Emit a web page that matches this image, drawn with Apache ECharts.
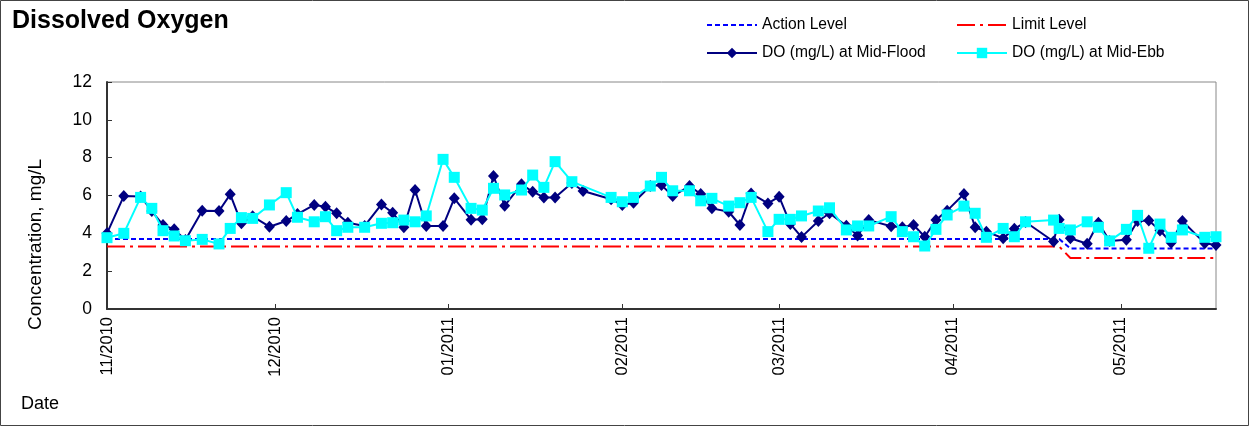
<!DOCTYPE html>
<html>
<head>
<meta charset="utf-8">
<script src="https://cdn.jsdelivr.net/npm/echarts@6/dist/echarts.min.js"></script>
<style>
html,body{margin:0;padding:0;background:#fff;}
#chart{width:1250px;height:427px;}
</style>
</head>
<body>
<div id="chart"></div>
<script>
// ---- Data ----
var floodDates = ['2010-11-01','2010-11-04','2010-11-07','2010-11-09','2010-11-11','2010-11-13','2010-11-15','2010-11-18','2010-11-21','2010-11-23','2010-11-25','2010-11-27','2010-11-30',
  '2010-12-03','2010-12-05','2010-12-08','2010-12-10','2010-12-12','2010-12-14','2010-12-17','2010-12-20','2010-12-22','2010-12-24','2010-12-26','2010-12-28','2010-12-31',
  '2011-01-02','2011-01-05','2011-01-07','2011-01-09','2011-01-11','2011-01-14','2011-01-16','2011-01-18','2011-01-20','2011-01-23','2011-01-25','2011-01-30',
  '2011-02-01','2011-02-03','2011-02-06','2011-02-08','2011-02-10','2011-02-13','2011-02-15','2011-02-17','2011-02-20','2011-02-22','2011-02-24','2011-02-27',
  '2011-03-01','2011-03-03','2011-03-05','2011-03-08','2011-03-10','2011-03-13','2011-03-15','2011-03-17','2011-03-21','2011-03-23','2011-03-25','2011-03-27','2011-03-29','2011-03-31',
  '2011-04-03','2011-04-05','2011-04-07','2011-04-10','2011-04-12','2011-04-14','2011-04-19','2011-04-20','2011-04-22','2011-04-25','2011-04-27','2011-04-29',
  '2011-05-02','2011-05-04','2011-05-06','2011-05-08','2011-05-10','2011-05-12','2011-05-16','2011-05-18'];
var floodValues = [4.0,5.97,5.95,5.18,4.44,4.21,3.65,5.2,5.18,6.06,4.53,4.9,4.35,
  4.65,5.02,5.5,5.41,5.06,4.56,4.39,5.53,5.09,4.32,6.29,4.39,4.39,
  5.85,4.72,4.74,7.03,5.46,6.59,6.2,5.9,5.9,6.66,6.24,5.8,
  5.5,5.62,6.5,6.55,5.97,6.5,6.08,5.32,5.14,4.44,6.11,5.58,
  5.94,4.5,3.8,4.65,5.06,4.4,3.88,4.7,4.37,4.32,4.44,3.82,4.7,5.2,
  6.08,4.32,4.09,3.74,4.24,4.6,3.57,4.72,3.74,3.45,4.56,3.6,
  3.66,4.65,4.68,4.15,3.5,4.65,3.47,3.38];

var ebbDates = ['2010-11-01','2010-11-04','2010-11-07','2010-11-09','2010-11-11','2010-11-13','2010-11-15','2010-11-18','2010-11-21','2010-11-23','2010-11-25','2010-11-27','2010-11-30',
  '2010-12-03','2010-12-05','2010-12-08','2010-12-10','2010-12-12','2010-12-14','2010-12-17','2010-12-20','2010-12-22','2010-12-24','2010-12-26','2010-12-28','2010-12-31',
  '2011-01-02','2011-01-05','2011-01-07','2011-01-09','2011-01-11','2011-01-14','2011-01-16','2011-01-18','2011-01-20','2011-01-23','2011-01-30',
  '2011-02-01','2011-02-03','2011-02-06','2011-02-08','2011-02-10','2011-02-13','2011-02-15','2011-02-17','2011-02-20','2011-02-22','2011-02-24','2011-02-27',
  '2011-03-01','2011-03-03','2011-03-05','2011-03-08','2011-03-10','2011-03-13','2011-03-15','2011-03-17','2011-03-21','2011-03-23','2011-03-25','2011-03-27','2011-03-29','2011-03-31',
  '2011-04-03','2011-04-05','2011-04-07','2011-04-10','2011-04-12','2011-04-14','2011-04-19','2011-04-20','2011-04-22','2011-04-25','2011-04-27','2011-04-29',
  '2011-05-02','2011-05-04','2011-05-06','2011-05-08','2011-05-10','2011-05-12','2011-05-16','2011-05-18'];
var ebbValues = [3.77,4.0,5.9,5.32,4.14,3.86,3.61,3.68,3.44,4.26,4.83,4.79,5.5,
  6.15,4.85,4.61,4.88,4.14,4.32,4.32,4.53,4.56,4.7,4.61,4.92,7.91,
  6.96,5.32,5.23,6.38,6.03,6.29,7.08,6.43,7.79,6.73,5.9,
  5.67,5.9,6.5,6.96,6.25,6.25,5.72,5.85,5.44,5.62,5.9,4.09,
  4.74,4.74,4.92,5.18,5.35,4.18,4.39,4.39,4.88,4.09,3.82,3.33,4.21,4.97,
  5.44,5.06,3.79,4.26,3.82,4.61,4.7,4.26,4.18,4.61,4.32,3.6,
  4.21,4.95,3.21,4.49,3.79,4.18,3.79,3.82];

var levelDates = ['2010-11-01','2011-04-20','2011-04-22','2011-05-18'];
var actionValues = [3.7,3.7,3.2,3.2];
var limitValues = [3.3,3.3,2.7,2.7];

var seriesNames = ['Action Level','Limit Level','DO (mg/L) at Mid-Flood','DO (mg/L) at Mid-Ebb'];
var xMin = '2010-11-01', xMax = '2011-05-18';
var yMin = 0, yMax = 12, yInterval = 2;

function pairs(d, v){ return d.map(function(x,i){ return [x, v[i]]; }); }

var FONT = 'Liberation Sans, Arial, sans-serif';
var chart = echarts.init(document.getElementById('chart'), null, {renderer:'canvas'});

function legendAt(name, left, top, hideSymbol){
  var l = {
    data:[name], left:left, top:top, orient:'horizontal',
    itemWidth:50, itemHeight:13, itemGap:0, padding:0,
    textStyle:{fontFamily:FONT, fontSize:15.6, color:'#000'},
    selectedMode:false
  };
  if (hideSymbol) l.itemStyle = {color:'rgba(0,0,0,0)', borderColor:'rgba(0,0,0,0)', borderWidth:0};
  return l;
}

chart.setOption({
  animation:false,
  backgroundColor:'#fff',
  title:{
    text:'Dissolved Oxygen', left:12, top:9, padding:0,
    textStyle:{fontFamily:FONT, fontSize:25, fontWeight:'bold', color:'#000'}
  },
  legend:[
    legendAt(seriesNames[0], 706, 17, true),
    legendAt(seriesNames[1], 956, 17, true),
    legendAt(seriesNames[2], 706, 45, false),
    legendAt(seriesNames[3], 956, 45, false)
  ],
  grid:{left:107, right:34, top:82, bottom:118, show:true, borderColor:'#888', borderWidth:1, backgroundColor:'transparent'},
  xAxis:{
    type:'time', min:xMin, max:xMax,
    minInterval:28*86400000, maxInterval:31*86400000, splitNumber:7,
    axisLine:{show:true, lineStyle:{color:'#333', width:2}},
    axisTick:{show:true, inside:true, length:5, lineStyle:{color:'#333', width:1}},
    splitLine:{show:false},
    axisLabel:{
      rotate:90, margin:8, fontFamily:FONT, fontSize:16.5, color:'#000',
      formatter:function(v){
        var d = new Date(v);
        if (d.getDate() !== 1) return '';
        var m = d.getMonth()+1;
        return (m<10?'0':'')+m+'/'+d.getFullYear();
      }
    }
  },
  yAxis:{
    type:'value', min:yMin, max:yMax, interval:yInterval,
    axisLine:{show:true, lineStyle:{color:'#333', width:2}},
    axisTick:{show:true, inside:true, length:5, lineStyle:{color:'#333', width:1}},
    splitLine:{show:false},
    axisLabel:{fontFamily:FONT, fontSize:17.5, color:'#000', margin:15}
  },
  graphic:[
    {type:'rect', shape:{x:0.5, y:0.5, width:1248, height:425}, style:{fill:'none', stroke:'#444', lineWidth:1}, silent:true},
    {type:'text', x:36, y:330, rotation:Math.PI/2, style:{text:'Concentration, mg/L', fontFamily:FONT, fontSize:19, fill:'#000', align:'left', verticalAlign:'middle'}},
    {type:'text', left:21, top:395, style:{text:'Date', fontFamily:FONT, fontSize:18, fill:'#000'}}
  ],
  series:[
    {name:seriesNames[0], type:'line', data:pairs(levelDates, actionValues), symbol:'none', z:1,
     lineStyle:{color:'#0000FF', width:2, type:[5,3]}, itemStyle:{color:'#0000FF'}},
    {name:seriesNames[1], type:'line', data:pairs(levelDates, limitValues), symbol:'none', z:1,
     lineStyle:{color:'#FF0000', width:2, type:[18,5,3,5]}, itemStyle:{color:'#FF0000'}},
    {name:seriesNames[2], type:'line', data:pairs(floodDates, floodValues), symbol:'diamond', symbolSize:[11,12], z:2,
     lineStyle:{color:'#000080', width:2}, itemStyle:{color:'#000080'}},
    {name:seriesNames[3], type:'line', data:pairs(ebbDates, ebbValues), symbol:'rect', symbolSize:11, z:3,
     lineStyle:{color:'#00FFFF', width:2}, itemStyle:{color:'#00FFFF'}}
  ]
});
</script>
</body>
</html>
